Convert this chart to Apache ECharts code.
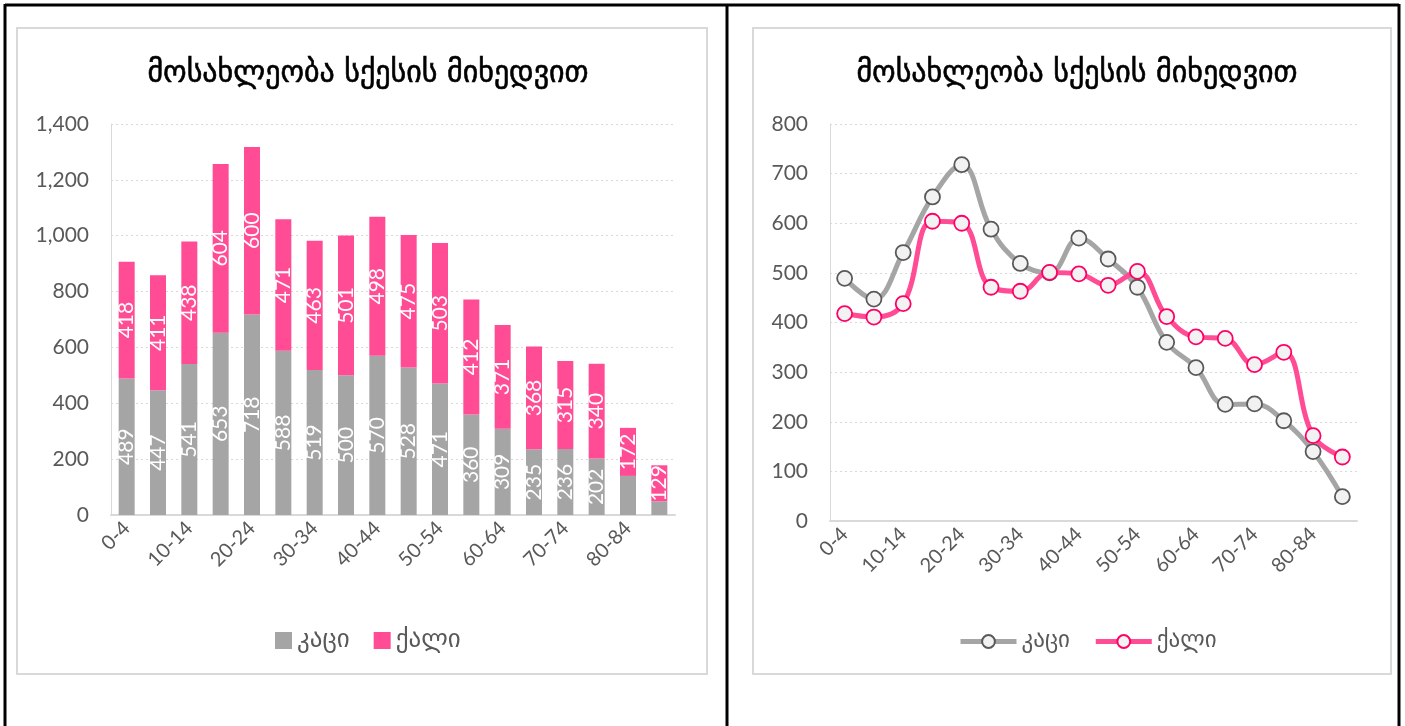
<!DOCTYPE html>
<html>
<head>
<meta charset="utf-8">
<script src="https://cdn.jsdelivr.net/npm/echarts@6/dist/echarts.min.js"></script>
<style>
html,body{margin:0;padding:0;background:#fff;}
#c{width:1405px;height:726px;}
</style>
</head>
<body>
<div id="c"></div>
<script>
const titleText = 'მოსახლეობა სქესის მიხედვით';
const categories = ['0-4','5-9','10-14','15-19','20-24','25-29','30-34','35-39','40-44','45-49','50-54','55-59','60-64','65-69','70-74','75-79','80-84','85+'];
const seriesNames = ['კაცი','ქალი'];
const male   = [489,447,541,653,718,588,519,500,570,528,471,360,309,235,236,202,140,49];
const female = [418,411,438,604,600,471,463,501,498,475,503,412,371,368,315,340,172,129];
const barTicks = {min:0, max:1400, interval:200};
const lineTicks = {min:0, max:800, interval:100};

const GRAY = '#A5A5A5', PINK = '#FF4C94';
const GEO = '"DejaVu Sans"';
const NUM = 'Lato';

const chart = echarts.init(document.getElementById('c'), null, {renderer:'canvas'});

function yAxis(idx, t){
  return {
    type:'value', gridIndex:idx, min:t.min, max:t.max, interval:t.interval,
    axisLine:{show:true, lineStyle:{color:'#D9D9D9', width:1}},
    axisTick:{show:false},
    splitLine:{lineStyle:{color:'#D9D9D9', type:[2,3], width:1.2}},
    axisLabel:{color:'#595959', fontSize:21, fontFamily:NUM, margin:22,
      formatter: v => v.toLocaleString('en-US')}
  };
}
function xAxis(idx){
  return {
    type:'category', gridIndex:idx, data:categories, boundaryGap:true,
    axisLine:{lineStyle:{color:'#D9D9D9', width:2}},
    axisTick:{show:false},
    axisLabel:{color:'#595959', fontSize:20, fontFamily:NUM, rotate:45, interval:1, margin:10}
  };
}

chart.setOption({
  animation:false,
  title:[
    {text:titleText, left:363, top:54, textAlign:'center',
     textStyle:{fontFamily:GEO, fontSize:30, fontWeight:'normal', color:'#000', textBorderColor:'#000', textBorderWidth:0.6}},
    {text:titleText, left:1072, top:54, textAlign:'center',
     textStyle:{fontFamily:GEO, fontSize:30, fontWeight:'normal', color:'#000', textBorderColor:'#000', textBorderWidth:0.6}}
  ],
  legend:[
    {data:seriesNames.map(n=>({name:n})), left:270, top:623, icon:'rect', itemWidth:17, itemHeight:17, itemGap:24,
     textStyle:{fontFamily:GEO, fontSize:25, color:'#595959'},
     selectedMode:false},
    {data:seriesNames.map((n,i)=>({name:n+' ', lineStyle:{width:5}})), left:953, top:625, itemWidth:56, itemHeight:16, itemGap:16,
     textStyle:{fontFamily:GEO, fontSize:23, color:'#595959'}, selectedMode:false}
  ],
  grid:[
    {left:111, right:730, top:124, bottom:211},
    {left:830, right:48, top:124, bottom:205}
  ],
  xAxis:[xAxis(0), xAxis(1)],
  yAxis:[yAxis(0, barTicks), yAxis(1, lineTicks)],
  series:[
    {name:seriesNames[0], type:'bar', stack:'a', xAxisIndex:0, yAxisIndex:0, barWidth:16,
     itemStyle:{color:GRAY},
     label:{show:true, position:'inside', rotate:90, color:'#fff', fontSize:21, fontFamily:NUM,
       formatter:p => p.value >= 150 ? p.value : ''},
     data:male},
    {name:seriesNames[1], type:'bar', stack:'a', xAxisIndex:0, yAxisIndex:0, barWidth:16,
     itemStyle:{color:PINK},
     label:{show:true, position:'inside', rotate:90, color:'#fff', fontSize:21, fontFamily:NUM},
     data:female},
    {name:seriesNames[0]+' ', type:'line', xAxisIndex:1, yAxisIndex:1, smooth:0.4,
     symbol:'circle', symbolSize:15, showAllSymbol:true,
     lineStyle:{color:GRAY, width:5},
     itemStyle:{color:'#F2F2F2', borderColor:'#595959', borderWidth:1.8},
     data:male, z:2},
    {name:seriesNames[1]+' ', type:'line', xAxisIndex:1, yAxisIndex:1, smooth:0.4,
     symbol:'circle', symbolSize:15, showAllSymbol:true,
     lineStyle:{color:PINK, width:5},
     itemStyle:{color:'#F2F2F2', borderColor:'#FF0066', borderWidth:1.8},
     data:female, z:3}
  ],
  graphic:[
    {type:'rect', shape:{x:17,y:28,width:690,height:646}, style:{fill:null, stroke:'#D9D9D9', lineWidth:2}, silent:true},
    {type:'rect', shape:{x:753,y:28,width:638,height:646}, style:{fill:null, stroke:'#D9D9D9', lineWidth:2}, silent:true},
    {type:'line', shape:{x1:5,y1:5,x2:1399,y2:5}, style:{stroke:'#000', lineWidth:3}, silent:true},
    {type:'line', shape:{x1:5,y1:4,x2:5,y2:726}, style:{stroke:'#000', lineWidth:3}, silent:true},
    {type:'line', shape:{x1:727,y1:4,x2:727,y2:726}, style:{stroke:'#000', lineWidth:3}, silent:true},
    {type:'line', shape:{x1:1399,y1:4,x2:1399,y2:726}, style:{stroke:'#000', lineWidth:3}, silent:true}
  ]
});
</script>
</body>
</html>
